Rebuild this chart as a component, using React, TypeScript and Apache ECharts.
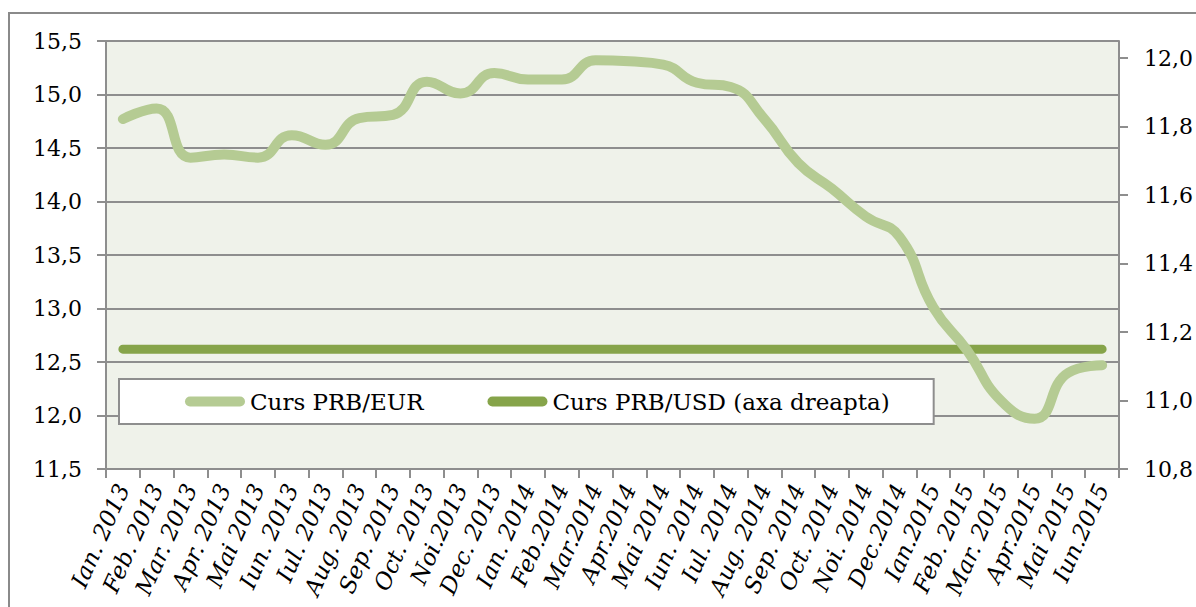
import React, { useEffect, useRef } from "react";
import * as echarts from "echarts";

const categories = [
  "Ian. 2013", "Feb. 2013", "Mar. 2013", "Apr. 2013", "Mai 2013", "Iun. 2013",
  "Iul. 2013", "Aug. 2013", "Sep. 2013", "Oct. 2013", "Noi.2013", "Dec. 2013",
  "Ian. 2014", "Feb.2014", "Mar.2014", "Apr.2014", "Mai 2014", "Iun. 2014",
  "Iul. 2014", "Aug. 2014", "Sep. 2014", "Oct. 2014", "Noi. 2014", "Dec.2014",
  "Ian.2015", "Feb. 2015", "Mar. 2015", "Apr.2015", "Mai 2015", "Iun.2015",
];

const eurValues = [
  14.77, 14.87, 14.41, 14.44, 14.41, 14.62, 14.53, 14.78, 14.81, 15.12,
  15.01, 15.2, 15.14, 15.14, 15.32, 15.31, 15.28, 15.11, 15.07, 14.77,
  14.36, 14.12, 13.86, 13.67, 13.01, 12.61, 12.14, 11.97, 12.4, 12.47,
];

const usdValues = [
  11.15, 11.15, 11.15, 11.15, 11.15, 11.15, 11.15, 11.15, 11.15, 11.15,
  11.15, 11.15, 11.15, 11.15, 11.15, 11.15, 11.15, 11.15, 11.15, 11.15,
  11.15, 11.15, 11.15, 11.15, 11.15, 11.15, 11.15, 11.15, 11.15, 11.15,
];

const rightTicks = [10.8, 11.0, 11.2, 11.4, 11.6, 11.8, 12.0];

const seriesNames = ["Curs PRB/EUR", "Curs PRB/USD (axa dreapta)"];

const EUR_COLOR = "#B5CB93";
const USD_COLOR = "#86A44A";
const GRID_COLOR = "#8E8E8E";
const FONT = "DejaVu Serif";
const ICON = "path://M5 0H55A5 5 0 0 1 55 10H5A5 5 0 0 1 5 0Z";

const fmt = (v: number) => v.toFixed(1).replace(".", ",");

export default function App() {
  const ref = useRef<HTMLDivElement>(null);

  useEffect(() => {
    if (!ref.current) return;
    const chart = echarts.init(ref.current, null, { renderer: "svg" });
    chart.setOption({
      animation: false,
      backgroundColor: "#FFFFFF",
      textStyle: { fontFamily: FONT, color: "#000" },
      graphic: [
        {
          type: "rect",
          z: -10,
          shape: { x: 9, y: 13, width: 1220, height: 700 },
          style: { fill: "none", stroke: "#8A8A8A", lineWidth: 2 },
          silent: true,
        },
      ],
      grid: {
        left: 106,
        top: 41,
        right: 72,
        bottom: 138,
        show: true,
        backgroundColor: "#EFF2EA",
        borderWidth: 0,
      },
      legend: {
        left: 119,
        top: 379,
        orient: "horizontal",
        padding: [11, 44, 11, 66],
        backgroundColor: "#FFFFFF",
        borderColor: GRID_COLOR,
        borderWidth: 2,
        itemWidth: 60,
        itemHeight: 10,
        itemGap: 64,
        textStyle: { fontFamily: FONT, fontSize: 23, color: "#000" },
        data: [
          { name: seriesNames[0], icon: ICON, itemStyle: { color: EUR_COLOR } },
          { name: seriesNames[1], icon: ICON, itemStyle: { color: USD_COLOR } },
        ],
      },
      xAxis: {
        type: "category",
        data: categories,
        boundaryGap: true,
        axisLine: { show: true, lineStyle: { color: GRID_COLOR, width: 2 } },
        axisTick: {
          show: true,
          length: 9,
          interval: 0,
          lineStyle: { color: GRID_COLOR, width: 2 },
        },
        axisLabel: {
          interval: 0,
          rotate: 66,
          margin: 16,
          fontFamily: FONT,
          fontStyle: "italic",
          fontSize: 23,
          color: "#000",
        },
        splitLine: { show: false },
      },
      yAxis: [
        {
          type: "value",
          min: 11.5,
          max: 15.5,
          interval: 0.5,
          position: "left",
          axisLine: { show: true, lineStyle: { color: GRID_COLOR, width: 2 } },
          axisTick: { show: true, length: 9, lineStyle: { color: GRID_COLOR, width: 2 } },
          axisLabel: {
            margin: 24,
            fontFamily: FONT,
            fontSize: 22,
            color: "#000",
            formatter: (v: number) => fmt(v),
          },
          splitLine: { show: true, lineStyle: { color: GRID_COLOR, width: 2 } },
        },
        {
          type: "value",
          min: 10.8,
          max: 12.05,
          position: "right",
          axisLine: { show: true, lineStyle: { color: GRID_COLOR, width: 2 } },
          axisTick: {
            show: true,
            length: 9,
            customValues: rightTicks,
            lineStyle: { color: GRID_COLOR, width: 2 },
          },
          axisLabel: {
            margin: 25,
            fontFamily: FONT,
            fontSize: 22,
            color: "#000",
            customValues: rightTicks,
            formatter: (v: number) => (Math.abs(v - 12.05) < 1e-6 ? "" : fmt(v)),
          },
          splitLine: { show: false },
        },
      ],
      series: [
        {
          name: seriesNames[0],
          type: "line",
          yAxisIndex: 0,
          data: eurValues,
          smooth: 0.5,
          showSymbol: false,
          symbol: "none",
          lineStyle: { color: EUR_COLOR, width: 10, cap: "round", join: "round" },
          itemStyle: { color: EUR_COLOR },
          z: 3,
        },
        {
          name: seriesNames[1],
          type: "line",
          yAxisIndex: 1,
          data: usdValues,
          showSymbol: false,
          symbol: "none",
          lineStyle: { color: USD_COLOR, width: 9, cap: "round" },
          itemStyle: { color: USD_COLOR },
          z: 2,
        },
      ],
    });
    return () => chart.dispose();
  }, []);

  return (
    <div
      ref={ref}
      style={{ position: "absolute", left: 0, top: 0, width: 1196, height: 607 }}
    />
  );
}
